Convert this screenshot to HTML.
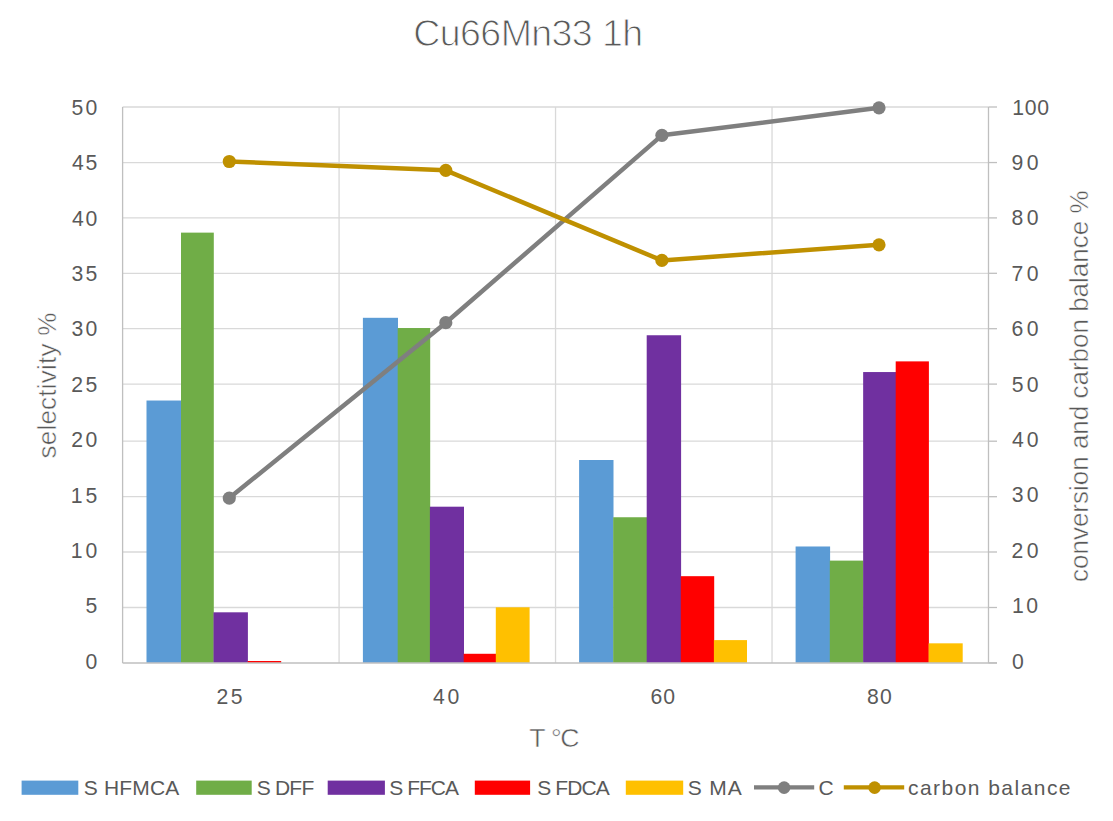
<!DOCTYPE html><html><head><meta charset="utf-8"><style>html,body{margin:0;padding:0;background:#fff;overflow:hidden;}svg{display:block;}text{font-family:"Liberation Sans",sans-serif;fill:#595959;}.th{stroke:#fff;stroke-width:1.0px;}.ta{stroke:#fff;stroke-width:0.5px;}</style></head><body>
<svg width="1113" height="821" viewBox="0 0 1113 821">
<rect width="1113" height="821" fill="#fff"/>
<text x="413.30 439.80 460.08 480.37 500.65 531.31 551.59 571.87 592.15 602.00 622.28" y="45.50" font-size="37.50" class="th">Cu66Mn33 1h</text>
<line x1="122.6" y1="607.50" x2="988.5" y2="607.50" stroke="#D9D9D9" stroke-width="1.3"/>
<line x1="122.6" y1="552.00" x2="988.5" y2="552.00" stroke="#D9D9D9" stroke-width="1.3"/>
<line x1="122.6" y1="496.70" x2="988.5" y2="496.70" stroke="#D9D9D9" stroke-width="1.3"/>
<line x1="122.6" y1="441.20" x2="988.5" y2="441.20" stroke="#D9D9D9" stroke-width="1.3"/>
<line x1="122.6" y1="384.10" x2="988.5" y2="384.10" stroke="#D9D9D9" stroke-width="1.3"/>
<line x1="122.6" y1="328.70" x2="988.5" y2="328.70" stroke="#D9D9D9" stroke-width="1.3"/>
<line x1="122.6" y1="273.30" x2="988.5" y2="273.30" stroke="#D9D9D9" stroke-width="1.3"/>
<line x1="122.6" y1="217.90" x2="988.5" y2="217.90" stroke="#D9D9D9" stroke-width="1.3"/>
<line x1="122.6" y1="162.55" x2="988.5" y2="162.55" stroke="#D9D9D9" stroke-width="1.3"/>
<line x1="122.6" y1="107.00" x2="988.5" y2="107.00" stroke="#D9D9D9" stroke-width="1.3"/>
<line x1="339.07" y1="107.00" x2="339.07" y2="662.90" stroke="#D9D9D9" stroke-width="1.3"/>
<line x1="555.55" y1="107.00" x2="555.55" y2="662.90" stroke="#D9D9D9" stroke-width="1.3"/>
<line x1="772.02" y1="107.00" x2="772.02" y2="662.90" stroke="#D9D9D9" stroke-width="1.3"/>
<line x1="122.60" y1="107.00" x2="122.60" y2="662.90" stroke="#BFBFBF" stroke-width="1.3"/>
<line x1="988.50" y1="107.00" x2="988.50" y2="662.90" stroke="#BFBFBF" stroke-width="1.3"/>
<line x1="988.50" y1="662.90" x2="997.00" y2="662.90" stroke="#BFBFBF" stroke-width="1.3"/>
<line x1="988.50" y1="607.50" x2="997.00" y2="607.50" stroke="#BFBFBF" stroke-width="1.3"/>
<line x1="988.50" y1="552.00" x2="997.00" y2="552.00" stroke="#BFBFBF" stroke-width="1.3"/>
<line x1="988.50" y1="496.70" x2="997.00" y2="496.70" stroke="#BFBFBF" stroke-width="1.3"/>
<line x1="988.50" y1="441.20" x2="997.00" y2="441.20" stroke="#BFBFBF" stroke-width="1.3"/>
<line x1="988.50" y1="384.10" x2="997.00" y2="384.10" stroke="#BFBFBF" stroke-width="1.3"/>
<line x1="988.50" y1="328.70" x2="997.00" y2="328.70" stroke="#BFBFBF" stroke-width="1.3"/>
<line x1="988.50" y1="273.30" x2="997.00" y2="273.30" stroke="#BFBFBF" stroke-width="1.3"/>
<line x1="988.50" y1="217.90" x2="997.00" y2="217.90" stroke="#BFBFBF" stroke-width="1.3"/>
<line x1="988.50" y1="162.55" x2="997.00" y2="162.55" stroke="#BFBFBF" stroke-width="1.3"/>
<line x1="988.50" y1="107.00" x2="997.00" y2="107.00" stroke="#BFBFBF" stroke-width="1.3"/>
<rect x="146.50" y="400.52" width="34.80" height="262.38" fill="#5B9BD5"/>
<rect x="181.00" y="232.63" width="32.80" height="430.27" fill="#70AD47"/>
<rect x="213.50" y="612.31" width="34.40" height="50.59" fill="#7030A0"/>
<rect x="247.60" y="661.01" width="33.60" height="1.89" fill="#FF0000"/>
<rect x="362.90" y="317.80" width="35.10" height="345.10" fill="#5B9BD5"/>
<rect x="397.70" y="328.03" width="32.50" height="334.87" fill="#70AD47"/>
<rect x="429.90" y="506.69" width="34.10" height="156.21" fill="#7030A0"/>
<rect x="463.70" y="653.78" width="32.40" height="9.12" fill="#FF0000"/>
<rect x="495.80" y="607.31" width="33.80" height="55.59" fill="#FFC000"/>
<rect x="579.10" y="460.00" width="34.40" height="202.90" fill="#5B9BD5"/>
<rect x="613.20" y="517.25" width="33.80" height="145.65" fill="#70AD47"/>
<rect x="646.70" y="335.25" width="34.40" height="327.65" fill="#7030A0"/>
<rect x="680.80" y="576.18" width="33.40" height="86.72" fill="#FF0000"/>
<rect x="713.90" y="640.11" width="33.10" height="22.79" fill="#FFC000"/>
<rect x="795.60" y="546.49" width="34.50" height="116.41" fill="#5B9BD5"/>
<rect x="829.80" y="560.61" width="33.65" height="102.29" fill="#70AD47"/>
<rect x="863.15" y="372.05" width="32.85" height="290.85" fill="#7030A0"/>
<rect x="895.70" y="361.38" width="33.20" height="301.52" fill="#FF0000"/>
<rect x="928.60" y="643.33" width="34.10" height="19.57" fill="#FFC000"/>
<line x1="122.60" y1="662.90" x2="997.00" y2="662.90" stroke="#BFBFBF" stroke-width="1.5"/>
<polyline points="229.30,498.08 445.80,322.69 661.90,135.35 879.00,107.83" fill="none" stroke="#7F7F7F" stroke-width="4.50" stroke-linejoin="round" stroke-linecap="round"/><circle cx="229.30" cy="498.08" r="6.60" fill="#7F7F7F"/><circle cx="445.80" cy="322.69" r="6.60" fill="#7F7F7F"/><circle cx="661.90" cy="135.35" r="6.60" fill="#7F7F7F"/><circle cx="879.00" cy="107.83" r="6.60" fill="#7F7F7F"/>
<polyline points="229.30,161.48 445.80,170.37 661.90,260.43 879.00,244.86" fill="none" stroke="#BF9000" stroke-width="4.50" stroke-linejoin="round" stroke-linecap="round"/><circle cx="229.30" cy="161.48" r="6.60" fill="#BF9000"/><circle cx="445.80" cy="170.37" r="6.60" fill="#BF9000"/><circle cx="661.90" cy="260.43" r="6.60" fill="#BF9000"/><circle cx="879.00" cy="244.86" r="6.60" fill="#BF9000"/>
<text x="85.44" y="668.70" font-size="21.20">0</text>
<text x="85.50" y="613.30" font-size="21.20">5</text>
<text x="70.79 85.44" y="557.90" font-size="21.20">10</text>
<text x="70.79 85.50" y="502.50" font-size="21.20">15</text>
<text x="71.33 85.44" y="447.10" font-size="21.20">20</text>
<text x="71.33 85.50" y="391.70" font-size="21.20">25</text>
<text x="71.59 85.44" y="336.30" font-size="21.20">30</text>
<text x="71.59 85.50" y="280.90" font-size="21.20">35</text>
<text x="71.91 85.44" y="225.50" font-size="21.20">40</text>
<text x="71.91 85.50" y="170.10" font-size="21.20">45</text>
<text x="71.55 85.44" y="114.70" font-size="21.20">50</text>
<text x="1011.97" y="668.60" font-size="21.20">0</text>
<text x="1011.99 1026.24" y="613.19" font-size="21.20">10</text>
<text x="1011.43 1026.64" y="557.78" font-size="21.20">20</text>
<text x="1011.69 1026.64" y="502.37" font-size="21.20">30</text>
<text x="1012.01 1026.64" y="446.96" font-size="21.20">40</text>
<text x="1011.65 1026.64" y="391.55" font-size="21.20">50</text>
<text x="1011.42 1026.64" y="336.14" font-size="21.20">60</text>
<text x="1011.41 1026.64" y="280.73" font-size="21.20">70</text>
<text x="1011.58 1026.64" y="225.32" font-size="21.20">80</text>
<text x="1011.51 1026.64" y="169.91" font-size="21.20">90</text>
<text x="1012.19 1024.66 1037.14" y="114.50" font-size="21.20">100</text>
<text x="216.53 230.80" y="703.70" font-size="21.20">25</text>
<text x="432.91 447.54" y="703.70" font-size="21.20">40</text>
<text x="650.62 663.14" y="703.70" font-size="21.20">60</text>
<text x="867.08 879.94" y="703.70" font-size="21.20">80</text>
<text x="529.20 544.45 550.91 560.24" y="746.70" font-size="26.70" class="ta">T °C</text>
<g transform="translate(55.7,457.8) rotate(-90)"><text x="-0.72 12.51 27.21 33.22 47.91 61.14 68.60 74.61 87.85 93.86 101.32 114.55 122.01" y="0.00" font-size="26.00" class="ta">selectivity %</text></g>
<g transform="translate(1087.8,580.9) rotate(-90)"><text x="-1.10 11.89 26.34 40.80 53.79 68.25 76.90 89.89 95.66 110.12 124.57 131.79 146.25 160.70 175.15 182.37 195.37 209.82 218.47 232.93 247.38 261.84 269.05 283.51 297.96 303.73 318.19 332.64 345.64 360.09 367.31" y="0.00" font-size="26.00" class="ta">conversion and carbon balance %</text></g>
<rect x="21.6" y="780.6" width="56.7" height="14.2" fill="#5B9BD5"/>
<text x="83.65 97.85 103.89 119.25 132.28 149.97 165.33" y="795.30" font-size="21.00">S HFMCA</text>
<rect x="196.2" y="780.6" width="55.5" height="14.2" fill="#70AD47"/>
<text x="256.65 269.89 274.95 289.35 301.41" y="795.30" font-size="21.00">S DFF</text>
<rect x="327.7" y="780.6" width="57.2" height="14.2" fill="#7030A0"/>
<text x="389.25 402.28 407.14 418.99 430.84 445.03" y="795.30" font-size="21.00">S FFCA</text>
<rect x="474.8" y="780.6" width="55.3" height="14.2" fill="#FF0000"/>
<text x="537.25 550.33 555.24 567.15 581.39 595.63" y="795.30" font-size="21.00">S FDCA</text>
<rect x="625.8" y="780.6" width="57.4" height="14.2" fill="#FFC000"/>
<text x="687.65 702.57 709.32 727.73" y="795.30" font-size="21.00">S MA</text>
<line x1="754" y1="787.4" x2="814.2" y2="787.4" stroke="#7F7F7F" stroke-width="4.3"/>
<circle cx="784.1" cy="787.6" r="6.3" fill="#7F7F7F"/>
<text x="818.53" y="795.30" font-size="21.00">C</text>
<line x1="843.8" y1="787.4" x2="904.2" y2="787.4" stroke="#BF9000" stroke-width="4.3"/>
<circle cx="874.6" cy="787.6" r="6.3" fill="#BF9000"/>
<text x="908.01 919.96 933.10 941.55 954.68 967.82 980.95 988.24 1001.37 1014.51 1020.63 1033.76 1046.90 1058.85" y="795.30" font-size="21.00">carbon balance</text>
</svg></body></html>
